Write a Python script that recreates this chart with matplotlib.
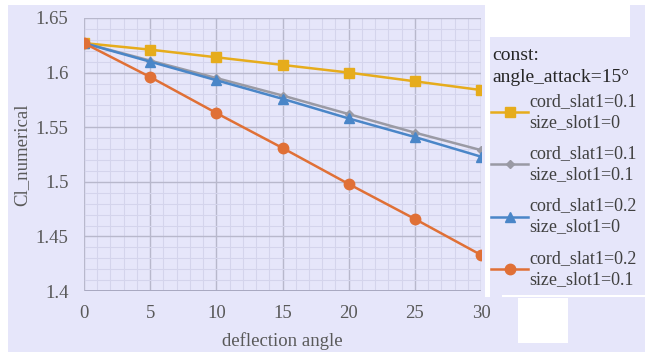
import matplotlib.pyplot as plt
from matplotlib.patches import Rectangle
from matplotlib.ticker import MultipleLocator

angles = [0, 5, 10, 15, 20, 25, 30]
cl_slat01_slot0 = [1.627, 1.621, 1.614, 1.607, 1.600, 1.592, 1.584]
cl_slat01_slot01 = [1.627, 1.611, 1.595, 1.579, 1.562, 1.545, 1.529]
cl_slat02_slot0 = [1.627, 1.610, 1.593, 1.576, 1.558, 1.541, 1.523]
cl_slat02_slot01 = [1.627, 1.596, 1.563, 1.531, 1.498, 1.466, 1.433]
labels = ["cord_slat1=0.1\nsize_slot1=0", "cord_slat1=0.1\nsize_slot1=0.1",
          "cord_slat1=0.2\nsize_slot1=0", "cord_slat1=0.2\nsize_slot1=0.1"]

bg = "#e6e6fa"
plt.rcParams['font.family'] = ['Liberation Serif', 'DejaVu Serif']

fig = plt.figure(figsize=(6.45, 3.52), dpi=100, facecolor=bg)
ax = fig.add_axes([0.130, 0.173, 0.616, 0.776], facecolor=bg)

series = [
    (cl_slat01_slot0, "#e6ac1c", "s", 7.5),
    (cl_slat01_slot01, "#9a9aa4", "D", 4.5),
    (cl_slat02_slot0, "#4a86c8", "^", 7.5),
    (cl_slat02_slot01, "#e07036", "o", 7.5),
]
for (vals, col, mk, ms), lab in zip(series, labels):
    ax.plot(angles, vals, color=col, marker=mk, markersize=ms, linewidth=1.8, label=lab)

ax.set_xlim(0, 30)
ax.set_ylim(1.4, 1.65)
ax.xaxis.set_major_locator(MultipleLocator(5))
ax.xaxis.set_minor_locator(MultipleLocator(1))
ax.yaxis.set_major_locator(MultipleLocator(0.05))
ax.yaxis.set_minor_locator(MultipleLocator(0.01))
ax.set_yticks([1.4, 1.45, 1.5, 1.55, 1.6, 1.65])
ax.set_yticklabels(["1.4", "1.45", "1.5", "1.55", "1.6", "1.65"])
ax.grid(which="major", color="#b8b8cc", linewidth=1)
ax.grid(which="minor", color="#d4d4ec", linewidth=0.8)
ax.set_axisbelow(True)
for s in ax.spines.values():
    s.set_visible(False)
ax.axhline(1.4, color="#a8a8c0", linewidth=1.4, zorder=1)
ax.axvline(0, color="#b8b8cc", linewidth=1.2, zorder=1)
ax.tick_params(which="both", length=0, labelsize=13.5, colors="#595959")
ax.tick_params(axis="x", pad=10)
ax.tick_params(axis="y", pad=11)
ax.set_xlabel("deflection angle", fontsize=13.5, color="#595959", labelpad=7)
ax.set_ylabel("Cl_numerical", fontsize=13.5, color="#595959", labelpad=4)

# legend title lines placed by hand
fig.text(0.763, 1 - 55 / 352, "const:", fontsize=14, color="#262626", va="center")
fig.text(0.763, 1 - 78 / 352, "angle_attack=15°", fontsize=14, color="#262626", va="center")

leg = fig.legend(loc="upper left", bbox_to_anchor=(0.762, 0.736), frameon=False,
                 fontsize=13, handlelength=2.0, handletextpad=0.1, labelspacing=0.8,
                 borderaxespad=0, borderpad=0)
for t in leg.get_texts():
    t.set_color("#404040")
    t.set_linespacing(1.3)

# white patches present in the source image
W, H = 645, 352
for x0, y0, w, h in [(0, 0, 8, 352), (0, 0, 645, 5), (490, 0, 140, 37),
                     (485, 0, 5, 297), (502, 295, 143, 2), (518, 298, 50, 45)]:
    fig.patches.append(Rectangle((x0 / W, 1 - (y0 + h) / H), w / W, h / H,
                                 transform=fig.transFigure, facecolor="white",
                                 edgecolor="none", zorder=5))

fig.savefig("out.png", dpi=100, facecolor=bg)
